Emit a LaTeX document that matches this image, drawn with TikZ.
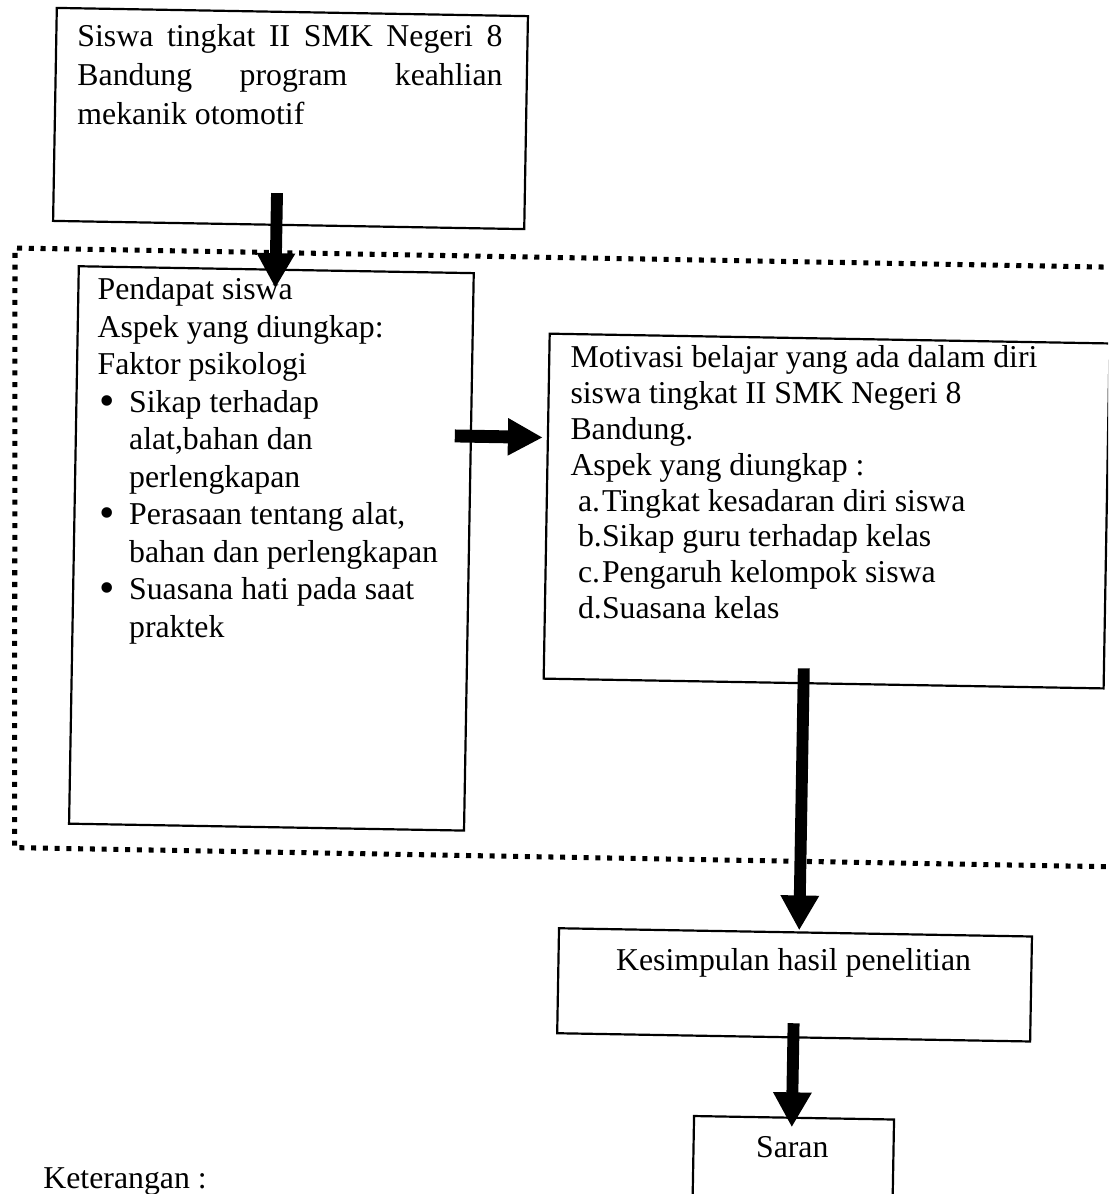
\documentclass[tikz,border=0pt]{standalone}
\usepackage{fontspec}
\setmainfont{Liberation Serif}
\usetikzlibrary{arrows.meta}
\def\pxu{0.387pt}
\newcommand\bitem{\makebox[12.2pt][l]{\hspace{0.6pt}\raisebox{-1.2pt}{\fontsize{17}{17}\selectfont\textbullet}}}
\newcommand\bind{\hspace*{12.2pt}}
\newcommand\lbl[1]{\hspace*{2.9pt}\makebox[9.3pt][l]{#1}}
\begin{document}
\begin{tikzpicture}[x=0.387pt,y=-0.387pt,
  box/.style={draw, line width=0.85pt, rectangle, anchor=north west, inner sep=0pt},
  txt/.style={inner sep=0pt, font=\fontsize{12.3}{14.5}\selectfont},
  bigarrow/.style={line width=4.6pt, -{Triangle[length=13.5pt,width=14pt]}},
  dotframe/.style={line width=1.95pt, dash pattern=on 1.95pt off 2.6pt}]
\fill[white] (0,0) rectangle (1108,1194);
\useasboundingbox (0,0) rectangle (1108,1194);
\clip (0,0) rectangle (1108,1194);
\begin{scope}[rotate around={-1:(554,597)}]
  % dotted frame (open on the right)
  \draw[dotframe] (1180,257.5) -- (9,257.5) -- (19,857) -- (1180,857);
  % boxes
  \begin{scope}[transform shape]
  \node[box, minimum width={471.2*\pxu}, minimum height={213*\pxu}] (b1) at (45.5,15.6) {};
  \node[box, minimum width={395*\pxu}, minimum height={557.5*\pxu}] (b2) at (72,273.5) {};
  \node[box, minimum width={560*\pxu}, minimum height={345*\pxu}] (b3) at (544,332.7) {};
  \node[box, minimum width={473*\pxu}, minimum height={105*\pxu}] (b4) at (563.7,927) {};
  \node[box, minimum width={200*\pxu}, minimum height={160*\pxu}] (b5) at (702,1112.4) {};
  \end{scope}
  % texts
  \node[txt, anchor=base west] (t1) at (67.4,55.3) {\parbox[t]{164.5pt}{\fontsize{12.3}{15.1}\selectfont
    Siswa tingkat II SMK Negeri 8\linebreak Bandung program keahlian\linebreak mekanik otomotif}};
  \node[txt, anchor=base west] (t2) at (92,308) {\parbox[t]{160pt}{\raggedright\fontsize{12.3}{14.5}\selectfont
    Pendapat siswa\\
    Aspek yang diungkap:\\
    Faktor psikologi\\
    \bitem Sikap terhadap\\
    \bind alat,bahan dan\\
    \bind perlengkapan\\
    \bitem Perasaan tentang alat,\\
    \bind bahan dan perlengkapan\\
    \bitem Suasana hati pada saat\\
    \bind praktek}};
  \node[txt, anchor=base west] (t3) at (566,367.7) {\parbox[t]{210pt}{\raggedright\fontsize{12.3}{13.85}\selectfont
    Motivasi belajar yang ada dalam diri\\
    siswa tingkat II SMK Negeri 8\\
    Bandung.\\
    Aspek yang diungkap :\\
    \lbl{a.}Tingkat kesadaran diri siswa\\
    \lbl{b.}Sikap guru terhadap kelas\\
    \lbl{c.}Pengaruh kelompok siswa\\
    \lbl{d.}Suasana kelas}};
  \node[txt, anchor=base] (t4) at (800,966) {Kesimpulan hasil penelitian};
  \node[txt, anchor=base] (t5) at (802,1153) {Saran};
  \node[txt, anchor=base west] (t6) at (53.3,1197) {Keterangan :};
  % arrows
  \coordinate (a1s) at (270,198);  \coordinate (a1e) at (270,293);
  \coordinate (a2s) at (452,437.7); \coordinate (a2e) at (540,437.7);
  \coordinate (a3s) at (805,664);  \coordinate (a3e) at (805,926);
  \coordinate (a4s) at (801,1019); \coordinate (a4e) at (801,1123);
  \draw[bigarrow] (a1s) -- (a1e);
  \draw[line width=5pt, -{Triangle[length=13.5pt,width=13.5pt]}] (a2s) -- (a2e);
  \draw[bigarrow] (a3s) -- (a3e);
  \draw[bigarrow] (a4s) -- (a4e);
\end{scope}
\end{tikzpicture}
\end{document}
